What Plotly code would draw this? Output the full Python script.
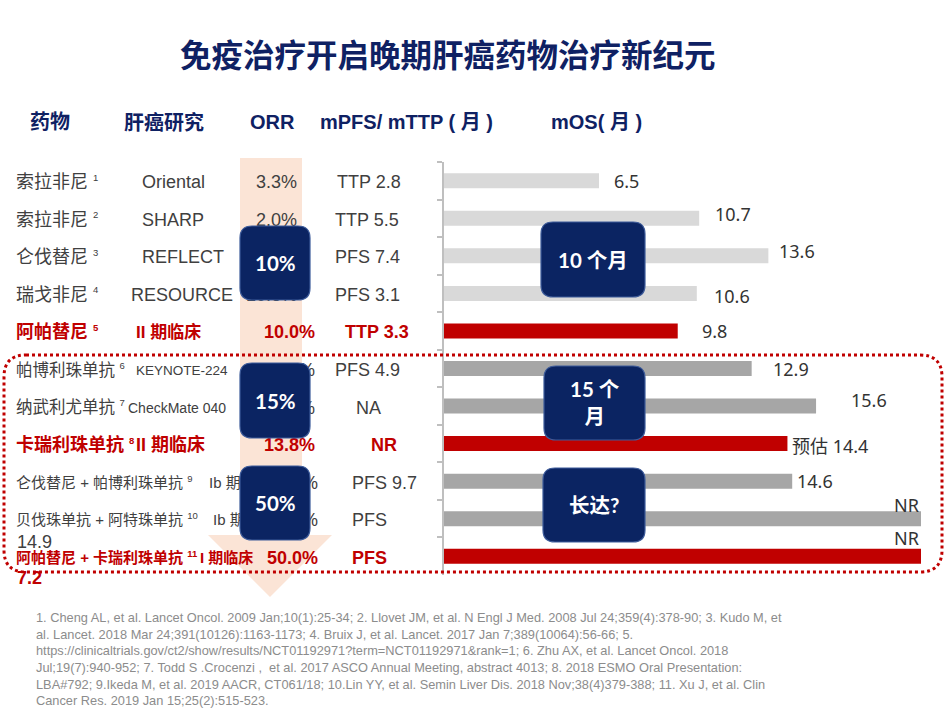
import plotly.graph_objects as go

W, H = 950, 713

# ---------------- data ----------------
drug_names = ["索拉非尼", "索拉非尼", "仑伐替尼", "瑞戈非尼", "阿帕替尼",
              "帕博利珠单抗", "纳武利尤单抗", "卡瑞利珠单抗",
              "仑伐替尼 + 帕博利珠单抗", "贝伐珠单抗 + 阿特珠单抗", "阿帕替尼 + 卡瑞利珠单抗"]
ref_nums = ["1", "2", "3", "4", "5", "6", "7", "8", "9", "10", "11"]
study_names = ["Oriental", "SHARP", "REFLECT", "RESOURCE", "II 期临床",
               "KEYNOTE-224", "CheckMate 040", "II 期临床", "Ib 期临床", "Ib 期临床", "I 期临床"]
orr_values = ["3.3%", "2.0%", "18.8%", "10.6%", "10.0%", "17.0%", "20.0%", "13.8%", "46.0%", "32.0%", "50.0%"]
pfs_values = ["TTP 2.8", "TTP 5.5", "PFS 7.4", "PFS 3.1", "TTP 3.3", "PFS 4.9", "NA", "NR", "PFS 9.7", "PFS", "PFS"]
pfs_overflow = ["", "", "", "", "", "", "", "", "", "14.9", "7.2"]
mos_values = [6.5, 10.7, 13.6, 10.6, 9.8, 12.9, 15.6, 14.4, 14.6, 20.0, 20.0]   # NR drawn full length
mos_labels = ["6.5", "10.7", "13.6", "10.6", "9.8", "12.9", "15.6", "预估 14.4", "14.6", "NR", "NR"]
highlight = [False, False, False, False, True, False, False, True, False, False, True]
immuno = [False, False, False, False, False, True, True, True, True, True, True]
row_ids = [f"{i + 1}. {d}" for i, d in enumerate(drug_names)]

orr_boxes = ["10%", "15%", "50%"]
os_boxes = ["10 个月", "15 个<br>月", "长达?"]
title_text = "免疫治疗开启晚期肝癌药物治疗新纪元"
headers = ["药物", "肝癌研究", "ORR", "mPFS/ mTTP ( 月 )", "mOS( 月 )"]
footnote = ("1. Cheng AL, et al. Lancet Oncol. 2009 Jan;10(1):25-34; 2. Llovet JM, et al. N Engl J Med. 2008 Jul 24;359(4):378-90; 3. Kudo M, et<br>"
            "al. Lancet. 2018 Mar 24;391(10126):1163-1173; 4. Bruix J, et al. Lancet. 2017 Jan 7;389(10064):56-66; 5.<br>"
            "https://clinicaltrials.gov/ct2/show/results/NCT01192971?term=NCT01192971&amp;rank=1; 6. Zhu AX, et al. Lancet Oncol. 2018<br>"
            "Jul;19(7):940-952; 7. Todd S .Crocenzi ,  et al. 2017 ASCO Annual Meeting, abstract 4013; 8. 2018 ESMO Oral Presentation:<br>"
            "LBA#792; 9.Ikeda M, et al. 2019 AACR, CT061/18; 10.Lin YY, et al. Semin Liver Dis. 2018 Nov;38(4)379-388; 11. Xu J, et al. Clin<br>"
            "Cancer Res. 2019 Jan 15;25(2):515-523.")

# ---------------- style / layout constants ----------------
RED = "#c00000"
TXT = "#404040"
NAVY = "#0f2163"
BOXFILL = "#0b2462"
BOXLINE = "#3d5b9a"
LAT = "Liberation Sans, Arial, Noto Sans CJK SC"
CJK = "Noto Sans CJK SC"
AX_X0, AX_X1, AX_Y0, AX_Y1 = 444, 940, 162, 575
PX_PER_UNIT = 23.85
ROW_PX = (AX_Y1 - AX_Y0) / len(row_ids)
TEXT_DROP = 3 / ROW_PX   # table text sits ~3px lower than the bar centres


def px(x):
    return x / W


def py(y):
    return 1 - y / H


def rrect(x0, y0, x1, y1, r):
    pts = [("M", x0 + r, y0), ("L", x1 - r, y0), ("Q", x1, y0, x1, y0 + r),
           ("L", x1, y1 - r), ("Q", x1, y1, x1 - r, y1), ("L", x0 + r, y1),
           ("Q", x0, y1, x0, y1 - r), ("L", x0, y0 + r), ("Q", x0, y0, x0 + r, y0)]
    s = ""
    for p in pts:
        cmd = p[0]
        coords = p[1:]
        parts = []
        for i in range(0, len(coords), 2):
            parts.append(f"{px(coords[i]):.5f},{py(coords[i + 1]):.5f}")
        s += cmd + " " + " ".join(parts) + " "
    return s + "Z"


def poly(points):
    return "M " + " L ".join(f"{px(x):.5f},{py(y):.5f}" for x, y in points) + " Z"


bar_colors = [RED if h else ("#a6a6a6" if io else "#d9d9d9") for h, io in zip(highlight, immuno)]
txt_colors = [RED if h else TXT for h in highlight]


def bold(s, h):
    return f"<b>{s}</b>" if h else s


def sup(n):
    return f"<sup><span style='font-size:9.5px'>{n}</span></sup>"


fig = go.Figure()

fig.add_trace(go.Bar(
    x=mos_values, y=row_ids, orientation="h", width=0.4,
    marker=dict(color=bar_colors, line=dict(width=0)),
    xaxis="x", yaxis="y", hoverinfo="skip", showlegend=False,
))

# table columns as text traces (so that the boxes can cover them)
drug_x = [16] * 11
drug_sizes = [18, 18, 18, 18, 18, 16.5, 16.5, 18, 15, 15, 15]
study_x = [142, 142, 142, 131, 136, 136, 128, 136, 209, 213, 200]
study_sizes = [18, 18, 18, 18, 17, 13.5, 14, 18, 15, 15, 15]
orr_x = [297, 297, 297, 297, 315, 315, 315, 315, 318, 318, 318]
pfs_x = [337, 335, 335, 335, 345, 335, 356, 371, 352, 352, 352]

common = dict(mode="text", xaxis="x2", yaxis="y2", cliponaxis=False, hoverinfo="skip", showlegend=False)
fig.add_trace(go.Scatter(
    x=drug_x, y=row_ids, textposition="middle right",
    text=[bold(f"{d} {sup(r)}", h) for d, r, h in zip(drug_names, ref_nums, highlight)],
    textfont=dict(family=LAT, size=drug_sizes, color=txt_colors), **common,
))
fig.add_trace(go.Scatter(
    x=study_x, y=row_ids, textposition="middle right",
    text=[bold(s, h) for s, h in zip(study_names, highlight)],
    textfont=dict(family=LAT, size=study_sizes, color=txt_colors), **common,
))
fig.add_trace(go.Scatter(
    x=orr_x, y=row_ids, textposition="middle left",
    text=[bold(s, h) for s, h in zip(orr_values, highlight)],
    textfont=dict(family=LAT, size=18, color=txt_colors), **common,
))
fig.add_trace(go.Scatter(
    x=pfs_x, y=row_ids, textposition="middle right",
    text=[bold(s, h) for s, h in zip(pfs_values, highlight)],
    textfont=dict(family=LAT, size=18, color=txt_colors), **common,
))

annotations = []
# mOS value labels
lab_xshift = [13, 14, 9, 15, 22, 19, 33, 3, 3, 0, 0]
lab_yshift = [0, 4, 5, -3, 0, 0, 6, -2, 0, 14, 18]
for v, lab, rid, xs, ys in zip(mos_values, mos_labels, row_ids, lab_xshift, lab_yshift):
    nr = lab == "NR"
    annotations.append(dict(
        x=v, y=rid, xref="x", yref="y", text=lab, showarrow=False,
        xanchor="right" if nr else "left", yanchor="middle",
        xshift=xs, yshift=ys,
        font=dict(family="Noto Sans, Noto Sans CJK SC", size=18, color="#333333"),
    ))

# overflow of the mPFS cells (wrapped text)
overflow_pos = {9: 542, 10: 578}
for i, t in enumerate(pfs_overflow):
    if t:
        annotations.append(dict(
            x=px(15), y=py(overflow_pos[i]), xref="paper", yref="paper", text=bold(t, highlight[i]),
            showarrow=False, xanchor="left", yanchor="middle",
            font=dict(family=LAT, size=18, color=txt_colors[i]),
        ))

# title and header
annotations.append(dict(
    x=px(448), y=py(53), xref="paper", yref="paper", text=f"<b>{title_text}</b>",
    showarrow=False, xanchor="center", yanchor="middle",
    font=dict(family=CJK, size=31.5, color=NAVY),
))
header_x = [28, 122, 248, 318, 549]
for hx, ht in zip(header_x, headers):
    annotations.append(dict(
        x=px(hx), y=py(122), xref="paper", yref="paper", text=f"<b>{ht}</b>",
        showarrow=False, xanchor="left", yanchor="middle",
        font=dict(family=LAT, size=20, color=NAVY),
    ))

# footnote
annotations.append(dict(
    x=px(34), y=py(608), xref="paper", yref="paper", text=footnote,
    showarrow=False, xanchor="left", yanchor="top", align="left",
    font=dict(family=LAT, size=12.8, color="#8c8c8c"),
))

shapes = []
# big downward arrow behind ORR column
shapes.append(dict(
    type="path", xref="paper", yref="paper", layer="below",
    path=poly([(240, 158), (302, 158), (302, 535), (332, 535), (270, 597), (208, 535), (240, 535)]),
    fillcolor="#fbe4d6", line=dict(width=0),
))
# dotted rounded frame around immunotherapy rows
shapes.append(dict(
    type="path", xref="paper", yref="paper", layer="above",
    path=rrect(4, 355, 942, 572, 22),
    fillcolor="rgba(0,0,0,0)", line=dict(color=RED, width=3, dash="dot"),
))

box_rects_orr = [(240, 226, 310, 300), (240, 363, 310, 438), (240, 466, 310, 540)]
box_rects_os = [(541, 222, 645, 297), (544, 366, 645, 440), (543, 468, 645, 542)]
for (x0, y0, x1, y1), t in list(zip(box_rects_orr, orr_boxes)) + list(zip(box_rects_os, os_boxes)):
    shapes.append(dict(
        type="path", xref="paper", yref="paper", layer="above",
        path=rrect(x0, y0, x1, y1, 12),
        fillcolor=BOXFILL, line=dict(color=BOXLINE, width=1.2),
    ))
    annotations.append(dict(
        x=px((x0 + x1) / 2), y=py((y0 + y1) / 2), xref="paper", yref="paper",
        text=f"<b>{t}</b>", showarrow=False, xanchor="center", yanchor="middle",
        font=dict(family="Lato, Noto Sans CJK SC", size=20.5, color="white"),
    ))

n = len(row_ids)
fig.update_layout(
    width=W, height=H, margin=dict(l=0, r=0, t=0, b=0),
    paper_bgcolor="white", plot_bgcolor="rgba(0,0,0,0)",
    showlegend=False, hovermode=False,
    xaxis=dict(domain=[px(AX_X0), px(AX_X1)], range=[0, (AX_X1 - AX_X0) / PX_PER_UNIT],
               visible=False, anchor="y", fixedrange=True),
    xaxis2=dict(domain=[0, 1], range=[0, W], visible=False, anchor="y2", fixedrange=True),
    yaxis=dict(domain=[py(AX_Y1), py(AX_Y0)], categoryorder="array", categoryarray=row_ids,
               range=[n - 0.5, -0.5], autorange=False,
               showline=True, linecolor="#bfbfbf", linewidth=1.5,
               ticks="outside", tickson="boundaries", ticklen=5, tickcolor="#bfbfbf", tickwidth=1.5,
               showticklabels=False, showgrid=False, zeroline=False, anchor="x", fixedrange=True),
    yaxis2=dict(domain=[py(AX_Y1), py(AX_Y0)], categoryorder="array", categoryarray=row_ids,
                range=[n - 0.5 - TEXT_DROP, -0.5 - TEXT_DROP], autorange=False,
                visible=False, anchor="x2", fixedrange=True),
    annotations=annotations, shapes=shapes,
)

fig.write_html("out.html")
